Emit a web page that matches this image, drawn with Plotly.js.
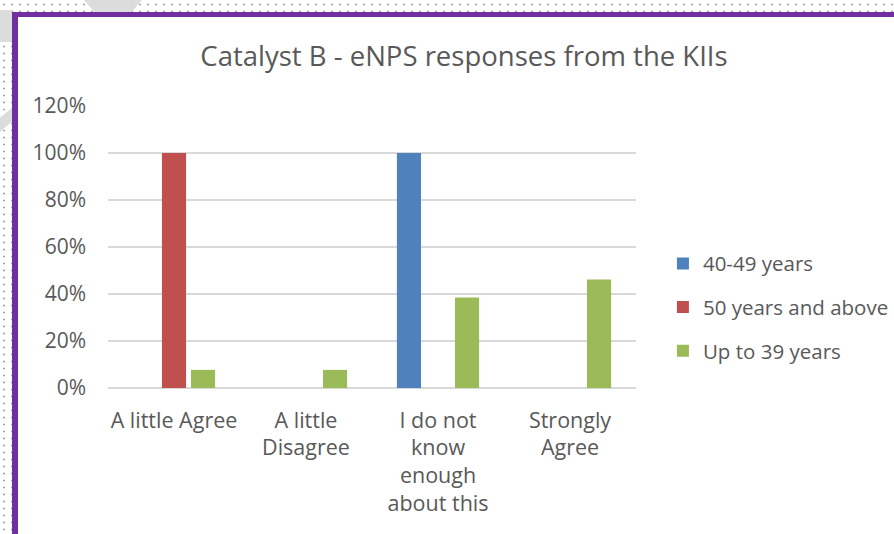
<!DOCTYPE html>
<html>
<head>
<meta charset="utf-8">
<script src="https://cdn.plot.ly/plotly-3.0.1.min.js"></script>
<style>
  html, body { margin: 0; padding: 0; }
  body {
    width: 894px; height: 534px; overflow: hidden; position: relative;
    background-color: #ffffff;
    background-image: radial-gradient(circle, #a3a3a3 0.9px, rgba(255,255,255,0) 1.2px);
    background-size: 8px 7px;
    background-position: 0px 1px;
  }
  .deco { position: absolute; background: #dcdcdc; }
  #chev-top { left: 84px; top: 0; width: 58px; height: 12px;
    clip-path: polygon(0 0, 100% 0, 82% 100%, 18% 100%); }
  #block-left { left: 0; top: 10px; width: 12px; height: 32px; }
  #wedge-left { left: 0; top: 108px; width: 12px; height: 24px;
    clip-path: polygon(0 40%, 100% 0, 100% 55%, 0 100%); }
  #frame {
    position: absolute; left: 12px; top: 12px; right: -10px; bottom: -10px;
    background: #ffffff;
    border-left: 6px solid #7030a0; border-top: 5px solid #7030a0;
  }
  #chart { position: absolute; left: 0; top: 0; width: 894px; height: 534px; }
</style>
</head>
<body>
<div class="deco" id="chev-top"></div>
<div class="deco" id="block-left"></div>
<div class="deco" id="wedge-left"></div>
<div id="frame"></div>
<div id="chart"></div>
<script>
// Response categories and their axis labels (wrapped as shown under the axis)
const categories = ["A little Agree", "A little Disagree", "I do not know enough about this", "Strongly Agree"];
const categoryLabels = ["A little Agree", "A little<br>Disagree", "I do not<br>know<br>enough<br>about this", "Strongly<br>Agree"];

// Share of respondents per age group
const age40to49 = [0, 0, 1.00, 0];
const age50plus = [1.00, 0, 0, 0];
const upTo39 = [0.077, 0.077, 0.385, 0.462];

const seriesNames = ["40-49 years", "50 years and above", "Up to 39 years"];
const seriesColors = ["#4f81bd", "#c0504d", "#9bbb59"];
const seriesValues = [age40to49, age50plus, upTo39];

const textColor = "#595959";
const fontFamily = "'Open Sans', 'Noto Sans', sans-serif";

const traces = seriesValues.map((vals, i) => ({
  type: "bar",
  name: seriesNames[i],
  x: categories,
  y: vals,
  legendgroup: "g" + i,
  marker: { color: seriesColors[i], line: { width: 0 } },
  hoverinfo: "x+y+name"
}));

const layout = {
  width: 894,
  height: 534,
  paper_bgcolor: "rgba(0,0,0,0)",
  plot_bgcolor: "rgba(0,0,0,0)",
  margin: { l: 108, r: 258, t: 106, b: 146, pad: 0, autoexpand: false },
  font: { family: fontFamily, color: textColor, size: 21 },
  title: {
    text: "Catalyst B - eNPS responses from the KIIs",
    font: { family: fontFamily, size: 27.5, color: textColor },
    x: 464 / 894, xref: "container", xanchor: "center",
    y: 1 - 56 / 534, yref: "container", yanchor: "middle"
  },
  barmode: "group",
  bargap: 0.34,
  bargroupgap: 0.17,
  xaxis: {
    type: "category",
    tickvals: categories,
    ticktext: categoryLabels,
    showgrid: false,
    showline: false,
    ticks: "",
    ticklabelstandoff: 17,
    tickfont: { family: fontFamily, size: 21.5, color: textColor },
    fixedrange: true
  },
  yaxis: {
    range: [0, 1.2],
    dtick: 0.2,
    tick0: 0,
    tickformat: ".0%",
    showgrid: true,
    gridcolor: "#d9d9d9",
    gridwidth: 1.3,
    zeroline: true,
    zerolinecolor: "#d9d9d9",
    zerolinewidth: 1.3,
    showline: false,
    ticks: "",
    ticklabelstandoff: 21,
    tickfont: { family: fontFamily, size: 21, color: textColor },
    fixedrange: true
  },
  showlegend: true,
  legend: {
    x: 1.051, xanchor: "left",
    y: 0.287, yanchor: "middle",
    traceorder: "grouped",
    tracegroupgap: 14,
    font: { family: fontFamily, size: 20.5, color: textColor },
    bgcolor: "rgba(0,0,0,0)",
    borderwidth: 0
  }
};

Plotly.newPlot("chart", traces, layout, { displayModeBar: false, staticPlot: true });
</script>
</body>
</html>
